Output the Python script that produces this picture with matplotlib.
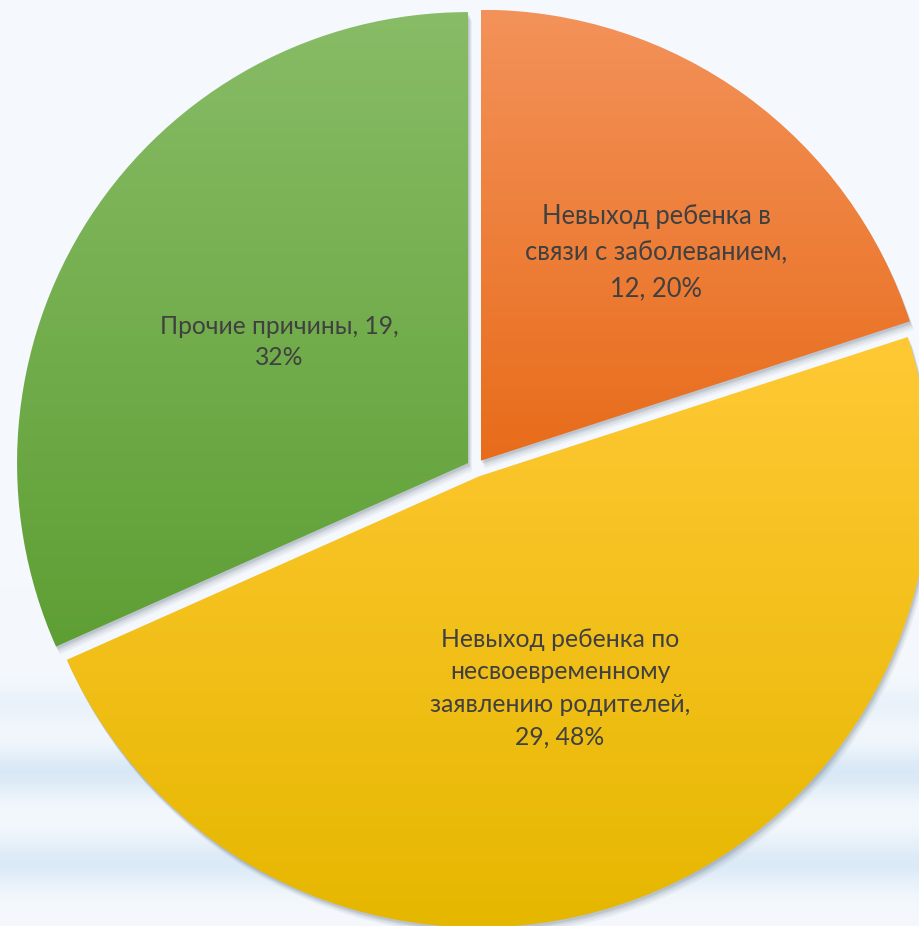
import numpy as np
import matplotlib
matplotlib.use("Agg")
import matplotlib.pyplot as plt
from matplotlib.colors import LinearSegmentedColormap
from matplotlib.patches import Wedge

# ---- data ----
categories = ["Невыход ребенка в\nсвязи с заболеванием,",
              "Невыход ребенка по\nнесвоевременному\nзаявлению родителей,",
              "Прочие причины, 19,"]
values = [12, 29, 19]
percents = [20, 48, 32]

# ---- styling ----
W, H = 919, 926
cx, cy = 475.6, H - 468
R = 451
expl = 9
top_cols = ["#F3925A", "#FFC935", "#88BC66"]
bot_cols = ["#E86C1A", "#E6B700", "#5E9F34"]
txt_col = "#404040"

fig = plt.figure(figsize=(W / 100, H / 100), dpi=100)
ax = fig.add_axes([0, 0, 1, 1])
ax.axis("off")

# background
yy = np.arange(H)
bg = np.zeros((H, 1, 3))
base = np.array([245, 249, 253]) / 255
blue = np.array([216, 232, 246]) / 255
w = np.zeros(H)
w += 0.95 * np.exp(-((yy - 772) / 24.0) ** 2)
w += 0.85 * np.exp(-((yy - 862) / 26.0) ** 2)
w += 0.4 * np.exp(-((yy - 705) / 20.0) ** 2)
w = np.clip(w, 0, 1)
bg[:, 0, :] = base[None, :] * (1 - w[:, None]) + blue[None, :] * w[:, None]
ax.imshow(bg, extent=[0, W, 0, H], aspect="auto", zorder=0, origin="upper")

wedges, _ = ax.pie(values, center=(cx, cy), radius=R, startangle=90,
                   counterclock=False, explode=[expl] * 3,
                   wedgeprops=dict(linewidth=0, edgecolor="none"))

for i, wd in enumerate(wedges):
    wd.set_facecolor("none")
    wd.set_zorder(3)
    c = wd.center
    for off, a in [(8, 0.05), (6, 0.07), (4, 0.09), (2.5, 0.11)]:
        sh = Wedge((c[0] + off * 0.5, c[1] - off), wd.r, wd.theta1, wd.theta2,
                   facecolor="#34465a", edgecolor="none", alpha=a, zorder=1)
        ax.add_patch(sh)
    ext = wd.get_path().get_extents()
    cmap = LinearSegmentedColormap.from_list("g%d" % i, [bot_cols[i], top_cols[i]])
    grad = np.linspace(1, 0, 256).reshape(-1, 1)
    im = ax.imshow(grad, cmap=cmap, extent=[ext.x0, ext.x1, ext.y0, ext.y1],
                   aspect="auto", origin="upper", zorder=2, vmin=0, vmax=1)
    im.set_clip_path(wd)

ax.set_xlim(0, W)
ax.set_ylim(0, H)
ax.set_aspect("auto")

fam = ["Lato", "DejaVu Sans"]
labels = [f"{categories[0]}\n{values[0]}, {percents[0]}%",
          f"{categories[1]}\n{values[1]}, {percents[1]}%",
          f"{categories[2]}\n{percents[2]}%"]
pos = [(656, H - 253), (560, H - 688), (279, H - 342)]
sizes = [18.4, 17.8, 17.7]
spac = [1.56, 1.50, 1.40]
for lab, p, s, ls in zip(labels, pos, sizes, spac):
    ax.text(p[0], p[1], lab, ha="center", va="center", color=txt_col,
            fontsize=s, family=fam, linespacing=ls, zorder=5)

fig.savefig("out.png", dpi=100)
